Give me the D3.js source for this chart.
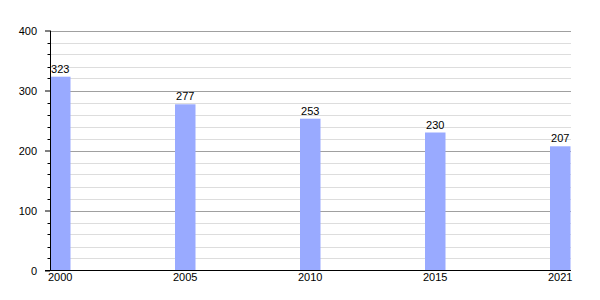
<!DOCTYPE html>
<html><head><meta charset="utf-8">
<script src="https://cdn.jsdelivr.net/npm/d3@7"></script>
<style>body{margin:0;background:#fff}svg{display:block}text{font-family:"Liberation Sans",Arial,sans-serif;font-size:11px;fill:#000}</style>
</head><body><div id="chart"></div>
<script>
const years = ["2000","2005","2010","2015","2021"];
const values = [323,277,253,230,207];
const yTicks = [0,100,200,300,400];

(function(){
const W=600,H=300;
const svg=d3.select("#chart").append("svg").attr("width",W).attr("height",H);
const mLeft=50,mRight=571,mTop=30.5,mBottom=270.5;
const y=d3.scaleLinear().domain([0,400]).range([mBottom,mTop]);
const x=d3.scalePoint().domain(years).range([mLeft,550]);
const bw=20.5;
const minor=d3.range(20,400,20).filter(v=>v%100!==0);

svg.append("g").selectAll("line").data(minor).join("line")
 .attr("x1",mLeft).attr("x2",mRight).attr("y1",d=>Math.round(y(d))+0.5).attr("y2",d=>Math.round(y(d))+0.5)
 .attr("stroke","#dddddd").attr("stroke-width",1);
svg.append("g").selectAll("line").data([100,200,300,400]).join("line")
 .attr("x1",mLeft).attr("x2",mRight).attr("y1",d=>Math.round(y(d))+0.5).attr("y2",d=>Math.round(y(d))+0.5)
 .attr("stroke","#a0a0a0").attr("stroke-width",1);

svg.append("g").selectAll("rect").data(values).join("rect")
 .attr("x",(d,i)=>x(years[i])).attr("width",bw)
 .attr("y",d=>y(d)).attr("height",d=>mBottom-y(d))
 .attr("fill","#99aaff");

svg.append("g").selectAll("text").data(values).join("text")
 .attr("x",(d,i)=>x(years[i])+bw/2).attr("y",d=>y(d)-4)
 .attr("text-anchor","middle").text(d=>d);

const yAxis=d3.axisLeft(y).tickValues(yTicks).tickSize(5).tickPadding(8);
const gy=svg.append("g").attr("transform",`translate(${mLeft},0)`).call(yAxis);
gy.select(".domain").remove();
gy.selectAll("text").style("font-size","11px").style("font-family","'Liberation Sans',Arial,sans-serif").attr("fill","#000");
gy.selectAll("line").attr("stroke","#000");
svg.append("g").selectAll("line").data(minor).join("line")
 .attr("x1",mLeft-2.5).attr("x2",mLeft).attr("y1",d=>Math.round(y(d))+0.5).attr("y2",d=>Math.round(y(d))+0.5)
 .attr("stroke","#000");
svg.append("line").attr("x1",mLeft+0.5).attr("x2",mLeft+0.5).attr("y1",mTop).attr("y2",mBottom).attr("stroke","#000");
svg.append("line").attr("x1",mLeft-5).attr("x2",mRight).attr("y1",mBottom).attr("y2",mBottom).attr("stroke","#000");

svg.append("g").selectAll("text").data(years).join("text")
 .attr("x",d=>x(d)+bw/2).attr("y",281).attr("text-anchor","middle").text(d=>d);
})();
</script></body></html>
